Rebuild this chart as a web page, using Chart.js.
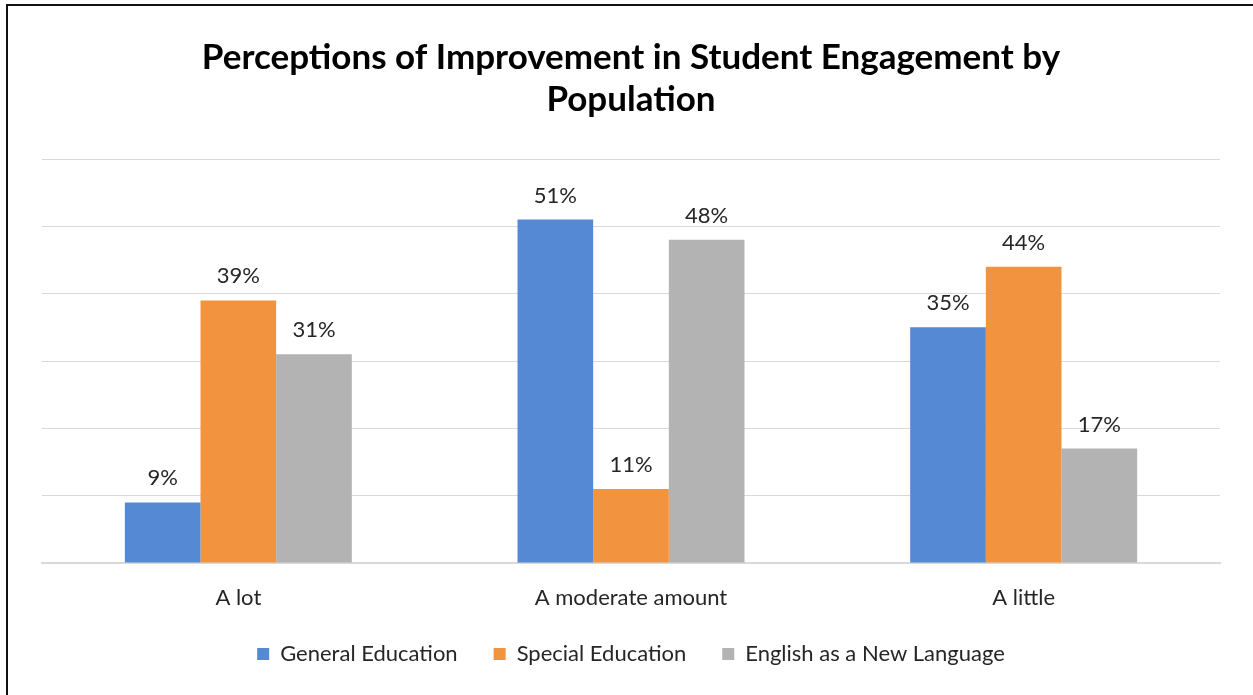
<!DOCTYPE html>
<html>
<head>
<meta charset="utf-8">
<script src="https://cdn.jsdelivr.net/npm/chart.js@4.4.0/dist/chart.umd.min.js"></script>
<style>
  html, body { margin: 0; padding: 0; background: #fff; overflow: hidden; }
  #wrap { position: relative; width: 1253px; height: 695px; }
  #marco { position: absolute; left: 6px; top: 4px; width: 1300px; height: 800px; border: 2px solid #111; box-sizing: border-box; pointer-events: none; }
</style>
</head>
<body>
<div id="wrap">
  <canvas id="grafico" width="1253" height="695"></canvas>
  <div id="marco"></div>
</div>
<script>
// Datos del gráfico
const categorias = ['A lot', 'A moderate amount', 'A little'];
const educacionGeneral = [9, 51, 35];
const educacionEspecial = [39, 11, 44];
const inglesNuevoIdioma = [31, 48, 17];
const nombresSeries = ['General Education', 'Special Education', 'English as a New Language'];
const titulo = ['Perceptions of Improvement in Student Engagement by', 'Population'];

const fuente = 'Lato, "Open Sans", sans-serif';

// Etiquetas encima de cada barra
const etiquetasBarras = {
    id: 'etiquetasBarras',
    afterDatasetsDraw(chart) {
        const ctx = chart.ctx;
        ctx.save();
        ctx.font = `22px ${fuente}`;
        ctx.fillStyle = '#262626';
        ctx.textAlign = 'center';
        ctx.textBaseline = 'bottom';
        chart.data.datasets.forEach((ds, i) => {
            chart.getDatasetMeta(i).data.forEach((barra, j) => {
                ctx.fillText(ds.data[j] + '%', barra.x, barra.y - 13);
            });
        });
        ctx.restore();
    }
};

const ctx = document.getElementById('grafico').getContext('2d');
window.grafico = new Chart(ctx, {
    type: 'bar',
    data: {
        labels: categorias,
        datasets: [
            { label: nombresSeries[0], data: educacionGeneral, backgroundColor: '#5589d3' },
            { label: nombresSeries[1], data: educacionEspecial, backgroundColor: '#f2933f' },
            { label: nombresSeries[2], data: inglesNuevoIdioma, backgroundColor: '#b3b3b3' }
        ]
    },
    options: {
        responsive: false,
        animation: false,
        devicePixelRatio: 1,
        datasets: {
            bar: { categoryPercentage: 0.578, barPercentage: 1.0 }
        },
        layout: { padding: { left: 42, right: 33, top: 0, bottom: 20 } },
        plugins: {
            title: {
                display: true,
                text: titulo,
                color: '#000',
                font: { family: fuente, size: 35, weight: 'bold', lineHeight: 1.2 },
                padding: { top: 37, bottom: 38 }
            },
            legend: {
                position: 'bottom',
                labels: {
                    boxWidth: 12,
                    boxHeight: 12,
                    padding: 36,
                    color: '#262626',
                    font: { family: fuente, size: 22 }
                }
            },
            tooltip: { enabled: false }
        },
        scales: {
            x: {
                grid: { display: false, drawTicks: false },
                border: { color: '#d9d9d9', width: 2 },
                ticks: { color: '#262626', font: { family: fuente, size: 22 }, padding: 22 },
                afterFit(scale) {
                    // alto fijo del eje para dejar la leyenda donde va
                    scale.height = 44;
                }
            },
            y: {
                min: 0,
                max: 60,
                ticks: { display: false, stepSize: 10 },
                border: { display: false },
                grid: { color: '#d9d9d9', lineWidth: 1, drawTicks: false }
            }
        }
    },
    plugins: [etiquetasBarras]
});
</script>
</body>
</html>
